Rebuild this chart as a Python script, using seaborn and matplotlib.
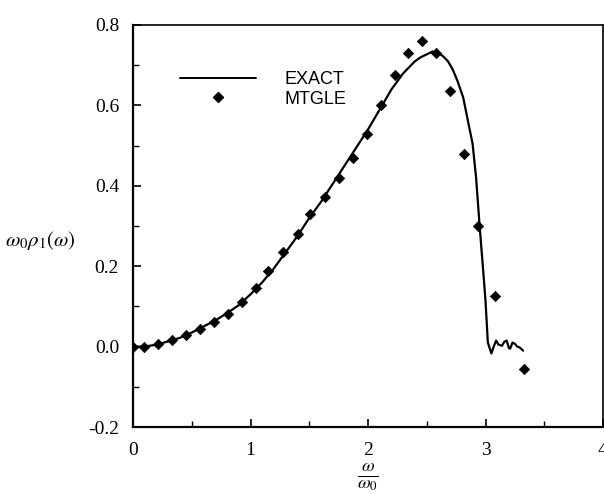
import numpy as np
import pandas as pd
import matplotlib
matplotlib.use("Agg")
import matplotlib.pyplot as plt
import seaborn as sns
from matplotlib.ticker import MultipleLocator
from matplotlib.lines import Line2D

# EXACT curve
exact_x = [0, 0.1, 0.2, 0.3, 0.4, 0.5, 0.6, 0.7, 0.8, 0.9, 1.0, 1.1, 1.2, 1.3, 1.4,
           1.5, 1.6, 1.7, 1.8, 1.9, 2.0, 2.1, 2.2, 2.3, 2.4, 2.45, 2.5, 2.55, 2.6,
           2.64, 2.68, 2.72, 2.76, 2.81, 2.85, 2.89, 2.92, 2.95, 2.98, 3.0, 3.02,
           3.05, 3.07, 3.09, 3.11, 3.14, 3.16, 3.18, 3.2, 3.21, 3.23, 3.25, 3.27,
           3.29, 3.32]
exact_y = [0, 0.0, 0.005, 0.013, 0.022, 0.035, 0.05, 0.065, 0.083, 0.103, 0.13, 0.16,
           0.195, 0.235, 0.275, 0.32, 0.36, 0.405, 0.45, 0.495, 0.54, 0.59, 0.64,
           0.68, 0.71, 0.72, 0.727, 0.734, 0.73, 0.722, 0.71, 0.69, 0.662, 0.62,
           0.562, 0.505, 0.42, 0.30, 0.19, 0.114, 0.01, -0.017, 0.0, 0.015, 0.005,
           0.002, 0.012, 0.015, -0.004, -0.005, 0.01, 0.007, 0.0, -0.002, -0.01]

# MTGLE points
mtgle_x = [0.0, 0.094, 0.21, 0.33, 0.45, 0.57, 0.69, 0.81, 0.93, 1.05, 1.15, 1.28,
           1.40, 1.51, 1.63, 1.75, 1.87, 1.99, 2.11, 2.23, 2.34, 2.46, 2.58, 2.70,
           2.82, 2.94, 3.08, 3.33]
mtgle_y = [0.0, -0.002, 0.007, 0.017, 0.03, 0.045, 0.06, 0.082, 0.112, 0.145, 0.187,
           0.235, 0.28, 0.33, 0.373, 0.42, 0.47, 0.53, 0.60, 0.675, 0.73, 0.76, 0.73,
           0.635, 0.48, 0.30, 0.127, -0.055]

x_ticks = [0, 1, 2, 3, 4]
y_ticks = [-0.2, 0.0, 0.2, 0.4, 0.6, 0.8]
y_tick_labels = ["-0.2", "0.0", "0.2", "0.4", "0.6", "0.8"]

sns.set_theme(style="white")
plt.rcParams["font.family"] = ["Liberation Serif", "DejaVu Serif"]
plt.rcParams["mathtext.fontset"] = "stix"
plt.rcParams["text.color"] = "black"
plt.rcParams["xtick.color"] = "black"
plt.rcParams["ytick.color"] = "black"
plt.rcParams["axes.labelcolor"] = "black"

fig = plt.figure(figsize=(6.04, 4.94), dpi=100)
ax = fig.add_axes([133/604, 1-427/494, 470/604, 402/494])

exact_df = pd.DataFrame({"x": exact_x, "y": exact_y})
mtgle_df = pd.DataFrame({"x": mtgle_x, "y": mtgle_y})

sns.lineplot(data=exact_df, x="x", y="y", ax=ax, color="black", lw=1.6,
             sort=False, estimator=None)
sns.scatterplot(data=mtgle_df, x="x", y="y", ax=ax, color="black", marker="D",
                s=28, edgecolor="black", linewidth=0.5, zorder=3)

ax.set_xlim(0, 4)
ax.set_ylim(-0.2, 0.8)
ax.set_xticks(x_ticks)
ax.set_xticklabels([str(t) for t in x_ticks])
ax.set_yticks(y_ticks)
ax.set_yticklabels(y_tick_labels)
ax.xaxis.set_minor_locator(MultipleLocator(0.5))
ax.yaxis.set_minor_locator(MultipleLocator(0.1))
ax.tick_params(which="both", direction="in", bottom=True, left=True,
               top=False, right=False, labelsize=14, color="black",
               labelcolor="black")
ax.tick_params(which="major", length=6, width=1.2)
ax.tick_params(axis="y", which="major", pad=10)
ax.tick_params(axis="x", which="major", pad=11)
ax.tick_params(which="minor", length=4, width=1.0)
for s in ax.spines.values():
    s.set_color("black")
    s.set_linewidth(1.2)
ax.spines["left"].set_linewidth(1.6)
ax.spines["bottom"].set_linewidth(1.6)

ax.set_xlabel(r"$\frac{\omega}{\omega_0}$", fontsize=19, color="black")
ax.xaxis.set_label_coords(0.5, -0.086)
ax.xaxis.label.set_va("top")
ax.set_ylabel(r"$\omega_0\rho_1(\omega)$", rotation=0, fontsize=15, color="black")
ax.yaxis.set_label_coords(-0.198, 0.465)
ax.yaxis.label.set_va("center")
ax.yaxis.label.set_ha("center")

handles = [Line2D([], [], color="black", lw=1.4),
           Line2D([], [], color="black", marker="D", ls="none", markersize=5)]
leg = ax.legend(handles, ["EXACT", "MTGLE"], loc="upper left",
                bbox_to_anchor=(0.065, 0.925), frameon=False, handlelength=4.2,
                handletextpad=1.6, labelspacing=0.12,
                prop={"family": "Liberation Sans", "size": 13})
for t in leg.get_texts():
    t.set_color("black")

fig.savefig("out.png", dpi=100)
